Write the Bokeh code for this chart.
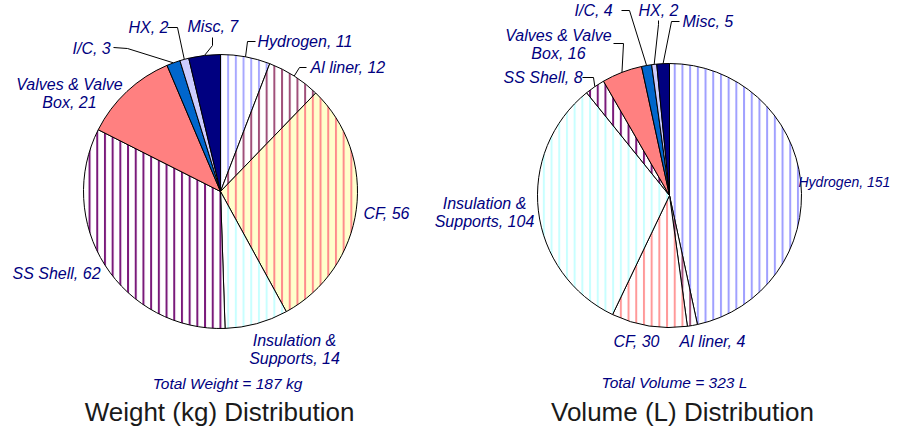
import numpy as np
from bokeh.plotting import figure
from bokeh.models import Range1d, ColumnDataSource
from bokeh.core.properties import value
from bokeh.embed import file_html
from bokeh.resources import INLINE

# ---------------- data ----------------
categories = ["Hydrogen", "Al liner", "CF", "Insulation & Supports", "SS Shell",
              "Valves & Valve Box", "I/C", "HX", "Misc"]
label_names = ["Hydrogen", "Al liner", "CF", "Insulation &\nSupports", "SS Shell",
               "Valves & Valve\nBox", "I/C", "HX", "Misc"]
weight_kg = [11, 12, 56, 14, 62, 21, 3, 2, 7]
volume_l = [151, 4, 30, 104, 8, 16, 4, 2, 5]
total_weight = 187
total_volume = 323
titles = ["Weight (kg) Distribution", "Volume (L) Distribution"]
totals_text = [f"Total Weight = {total_weight} kg", f"Total Volume = {total_volume} L"]

# ---------------- styles ----------------
W, H = 892, 426
NAVY = "#000080"
FONT = value("Liberation Sans")

left_fill = ["white", "white", "#FFFFCC", "white", "white", "#FF8080", "#0066CC", "#CCCCFF", "#000080"]
left_hatch = ["#A8A8FF", "#A0507A", "#FF8C8C", "#C8FFFF", "#7A1A7A", None, None, None, None]
right_fill = ["white", "white", "white", "white", "white", "#FF8080", "#0066CC", "#CCCCFF", "#000080"]
right_hatch = ["#A0A0FF", "#A0507A", "#FF9999", "#C8FFFF", "#7A1A7A", None, None, None, None]

# layout in canvas pixels (x, y from top-left); label entries: (x, y, align, font px)
pies = [
    dict(values=weight_kg, cx=220, cy=191, r=137, fill=left_fill, hatch=left_hatch,
         labels={0: (257, 41, "left", 16), 1: (310, 67, "left", 16), 2: (363, 213, "left", 16),
                 3: (294, 349, "center", 16), 4: (12, 273, "left", 16), 5: (69, 93, "center", 16),
                 6: (72, 48, "left", 16), 7: (128, 27, "left", 16), 8: (187, 26, "left", 16)},
         leaders={0: [(255, 41), (247, 41)], 1: [(306, 67), (299, 67)],
                  6: [(113, 47), (127, 48)], 7: [(167, 27), (177, 27)],
                  8: [(212, 37), (212, 45)]},
         title_xy=(219, 411), total_xy=(227, 383)),
    dict(values=volume_l, cx=669, cy=195, r=132, fill=right_fill, hatch=right_hatch,
         labels={0: (798, 181, "left", 14), 1: (679, 341, "left", 16), 2: (613, 341, "left", 16),
                 3: (484, 212, "center", 16), 4: (503, 77, "left", 16), 5: (558, 44, "center", 16),
                 6: (574, 10, "left", 16), 7: (638, 10, "left", 16), 8: (682, 21, "left", 16)},
         leaders={4: [(582, 77), (593, 77)], 5: [(613, 43), (623, 43)],
                  6: [(621, 10), (629, 10)], 7: [(658, 20), (658, 24)],
                  8: [(679, 21), (671, 21)]},
         title_xy=(682, 411), total_xy=(674, 382)),
]

def sy(y):
    return H - y

p = figure(width=W, height=H, output_backend="svg", toolbar_location=None,
           x_range=Range1d(0, W), y_range=Range1d(0, H), min_border=0)
p.axis.visible = False
p.grid.visible = False
p.outline_line_color = None
p.background_fill_color = "white"
p.border_fill_color = "white"

for pie, title, ttxt in zip(pies, titles, totals_text):
    vals = np.array(pie["values"], dtype=float)
    tot = vals.sum()
    cum = np.concatenate([[0], np.cumsum(vals)])
    # clockwise from 12 o'clock
    a0 = np.pi / 2 - cum[1:] / tot * 2 * np.pi
    a1 = np.pi / 2 - cum[:-1] / tot * 2 * np.pi
    mid = (a0 + a1) / 2
    hp = ["|" if h else " " for h in pie["hatch"]]
    hc = [h if h else "white" for h in pie["hatch"]]
    src = ColumnDataSource(dict(
        x=[pie["cx"]] * len(vals), y=[sy(pie["cy"])] * len(vals),
        start=a0, end=a1, fill=pie["fill"], hp=hp, hc=hc))
    p.wedge(x="x", y="y", radius=pie["r"], start_angle="start", end_angle="end",
            source=src, fill_color="fill", line_color="black", line_width=1,
            hatch_pattern="hp", hatch_color="hc", hatch_scale=7.7, hatch_weight=2)

    # labels
    for i, (lx, ly, al, fs) in pie["labels"].items():
        txt = f"{label_names[i]}, {pie['values'][i]}"
        p.text(x=[lx], y=[sy(ly)], text=[txt], text_font=FONT, text_font_style="italic",
               text_font_size=f"{fs}px", text_color=NAVY, text_align=al,
               text_baseline="middle", text_line_height=1.05)
    # leader lines
    xs, ys = [], []
    for i, pts in pie["leaders"].items():
        ex = pie["cx"] + pie["r"] * np.cos(mid[i])
        ey = pie["cy"] - pie["r"] * np.sin(mid[i])
        xs.append([q[0] for q in pts] + [ex])
        ys.append([sy(q[1]) for q in pts] + [sy(ey)])
    p.multi_line(xs=xs, ys=ys, line_color="black", line_width=1)

    # total + title
    p.text(x=[pie["total_xy"][0]], y=[sy(pie["total_xy"][1])], text=[ttxt],
           text_font=FONT, text_font_style="italic", text_font_size="15.5px",
           text_color=NAVY, text_align="center", text_baseline="middle")
    p.text(x=[pie["title_xy"][0]], y=[sy(pie["title_xy"][1])], text=[title],
           text_font=FONT, text_font_size="26px", text_color="#1a1a1a",
           text_align="center", text_baseline="middle")

open("out.html", "w").write(file_html(p, INLINE))
